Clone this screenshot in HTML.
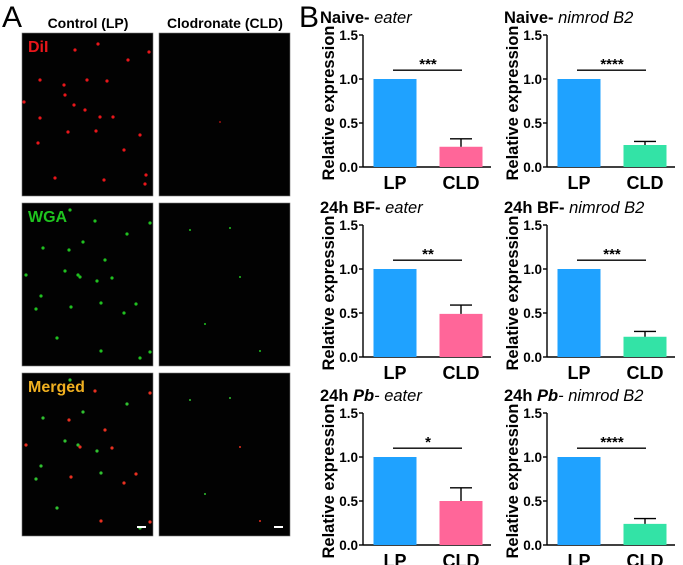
<!DOCTYPE html>
<html><head><meta charset="utf-8"><style>
body{margin:0;background:#fff;width:683px;height:565px;overflow:hidden;font-family:"Liberation Sans",Arial,sans-serif}
svg{position:absolute;left:0;top:0}
</style></head><body>
<svg id="fig" width="683" height="565" font-family="Liberation Sans, Arial, sans-serif">
<text x="2" y="27" font-size="30">A</text>
<text x="299" y="27" font-size="30">B</text>
<text x="88" y="28" font-size="14" font-weight="bold" text-anchor="middle">Control (LP)</text>
<text x="225" y="28" font-size="14" font-weight="bold" text-anchor="middle">Clodronate (CLD)</text>
<g id="imgs"></g>
<g id="charts"></g>
</svg>
<script>
const NS='http://www.w3.org/2000/svg';
function mk(t,a,p){const e=document.createElementNS(NS,t);for(const k in a)e.setAttribute(k,a[k]);p.appendChild(e);return e;}
const imgs=document.getElementById('imgs');
const rowsY=[33,203,373];
const imgX=[22,159];
const rowLabels=['DiI','WGA','Merged'];
const rowColors=['#e8161a','#1fc41f','#f0b020'];
const dotsL=[[75,50],[98,44],[128,60],[149,52],[40,80],[64,85],[87,80],[107,81],[65,95],[24,102],[74,105],[85,110],[100,117],[113,117],[40,118],[68,132],[96,131],[140,135],[38,143],[124,150],[55,178],[146,175],[145,184],[104,180]];
const dotsR=[[220,122]];
rowsY.forEach((y,r)=>{
  imgX.forEach((x,c)=>{
    const g=mk('rect',{x:x,y:y,width:131,height:163,fill:'#020202',stroke:'#777','stroke-width':0.6},imgs);
    
    
    const ds=c?(r==0?dotsR:[[190,70],[240,100],[205,150],[260,180],[230,60]]):dotsL;
    ds.forEach((d,i)=>{
      let col=rowColors[r];
      if(r==1&&!c) col='#20c020';
      if(r==2) col=(i%2?'#e83020':'#30c030');
      const yy=y+(d[1]-33)+(r?((i*37)%20-10):0);
      const xx=r&&!c?d[0]+((i*13)%11-5):d[0];
      if(yy>y+2&&yy<y+161) mk('circle',{cx:xx,cy:yy,r:c?1:1.6,fill:c&&r==0?'#a01010':col},imgs);
    });
    if(r==2) mk('rect',{x:x+115,y:y+153,width:9,height:2,fill:'#fff'},imgs);
  });
  const t=mk('text',{x:28,y:y+19,'font-size':16,'font-weight':'bold',fill:rowColors[r]},imgs);
  t.textContent=rowLabels[r];
  
  
});
const categories=['LP','CLD'];
const titlesBold=['Naive- ','Naive- ','24h BF- ','24h BF- ','24h ','24h '];
const titlesPb=['','','','','Pb','Pb'];
const titlesGene=['eater','nimrod B2','eater','nimrod B2','- eater','- nimrod B2'];
const lpValues=[1,1,1,1,1,1];
const cldValues=[0.23,0.25,0.49,0.23,0.50,0.24];
const cldErrors=[0.09,0.04,0.10,0.06,0.15,0.06];
const sigLabels=['***','****','**','***','*','****'];
const sigLevel=1.1;
const yTicks=[0,0.5,1.0,1.5];
const charts=document.getElementById('charts');
const origins=[[363,167],[547,167],[363,357],[547,357],[363,545],[547,545]];
const H=132;
origins.forEach((o,i)=>{
  const g=mk('g',{},charts);
  
  
  const [ax,ay]=o;
  const yS=v=>ay-v/1.5*H;
  const xC=k=>ax+32+k*66;
  const bw=43;
  const t=mk('text',{x:ax-43,y:ay-H-12,'font-size':16.5,'font-weight':'bold'},g);
  
  
  const s1=mk('tspan',{},t);s1.textContent=titlesBold[i];
  if(titlesPb[i]){const s2=mk('tspan',{'font-style':'italic'},t);s2.textContent=titlesPb[i];}
  const s3=mk('tspan',{'font-style':'italic','font-weight':'normal'},t);s3.textContent=titlesGene[i];
  const yt=mk('text',{x:0,y:0,'font-size':16.5,'font-weight':'bold','text-anchor':'middle',transform:`translate(${ax-29},${ay-H/2+2}) rotate(-90)`},g);
  yt.textContent='Relative expression';
  
  
  mk('line',{x1:ax,y1:yS(1.5),x2:ax,y2:ay,stroke:'#000','stroke-width':1.4},g);
  mk('line',{x1:ax,y1:ay,x2:ax+128,y2:ay,stroke:'#000','stroke-width':1.4},g);
  yTicks.forEach(v=>{
    mk('line',{x1:ax-4,y1:yS(v),x2:ax,y2:yS(v),stroke:'#000','stroke-width':1.4},g);
    const tl=mk('text',{x:ax-5,y:yS(v)+5,'font-size':13.5,'font-weight':'bold','text-anchor':'end'},g);
    tl.textContent=v.toFixed(1);
    
    
  });
  const colC=i%2?'#33e3a6':'#ff6699';
  const vals=[lpValues[i],cldValues[i]];
  vals.forEach((v,k)=>{
    const b=mk('rect',{x:xC(k)-bw/2,y:yS(v),width:bw,height:ay-yS(v),fill:k?colC:'#1fa2ff'},g);
    
    
    const xl=mk('text',{x:xC(k),y:ay+22,'font-size':18,'font-weight':'bold','text-anchor':'middle'},g);
    xl.textContent=categories[k];
    
    
  });
  const ev=cldValues[i]+cldErrors[i];
  mk('line',{x1:xC(1),y1:yS(cldValues[i]),x2:xC(1),y2:yS(ev),stroke:'#000','stroke-width':1.4},g);
  mk('line',{x1:xC(1)-11,y1:yS(ev),x2:xC(1)+11,y2:yS(ev),stroke:'#000','stroke-width':1.4},g);
  mk('line',{x1:xC(0)-2,y1:yS(sigLevel),x2:xC(1)+1,y2:yS(sigLevel),stroke:'#000','stroke-width':1.4},g);
  const st=mk('text',{x:(xC(0)+xC(1))/2,y:yS(sigLevel)-1,'font-size':15,'font-weight':'bold','text-anchor':'middle'},g);
  st.textContent=sigLabels[i];
  
  
});
</script>
</body></html>
